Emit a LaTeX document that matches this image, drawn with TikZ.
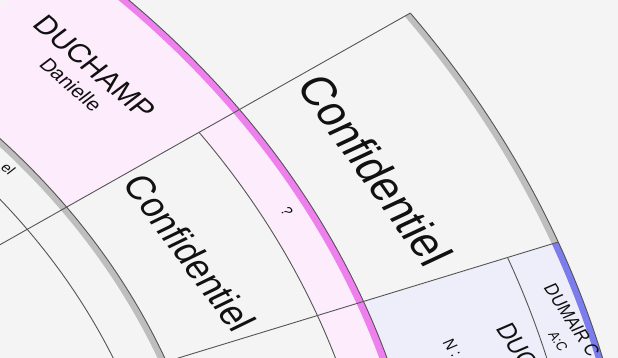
\documentclass[tikz,border=0pt]{standalone}
\usepackage{fontspec}
\setmainfont{Liberation Sans}
\usepackage{xcolor}
\usepackage{tikz}
\usetikzlibrary{calc}
\definecolor{figPaper}{RGB}{244,244,244}
\definecolor{figRose}{RGB}{252,236,252}
\definecolor{figRoseEdge}{RGB}{238,128,238}
\definecolor{figLilac}{RGB}{238,238,250}
\definecolor{figLilacEdge}{RGB}{124,124,236}
\definecolor{figSilver}{RGB}{190,190,190}
\definecolor{figLine}{RGB}{85,85,85}
\definecolor{figInk}{RGB}{17,17,17}
\tikzset{
  figrule/.style={draw=figLine,line width=0.45pt},
  figlabel/.style={transform shape,inner sep=0pt,text=figInk},
  figbig/.style={figlabel,font=\fontsize{20}{23}\selectfont},
  figmid/.style={figlabel,font=\fontsize{16.6}{19}\selectfont},
  figname/.style={figlabel,font=\fontsize{13}{15}\selectfont},
  figfirst/.style={figlabel,font=\fontsize{9}{11}\selectfont},
  figband/.style={figlabel,font=\fontsize{8}{9.6}\selectfont},
  figtiny/.style={figlabel,font=\fontsize{6.5}{7.5}\selectfont},
}
% annular sector: style, start/end angle, inner/outer radius
\newcommand{\FanSector}[5]{%
  \path[#1] (#2:#4) arc[start angle=#2,end angle=#3,radius=#4]
    -- (#3:#5) arc[start angle=#3,end angle=#2,radius=#5] -- cycle;%
}
\newcommand{\FanArc}[4]{%
  \draw[#1] (#2:#4) arc[start angle=#2,end angle=#3,radius=#4];%
}

\begin{document}
\begin{tikzpicture}[x=0.5pt,y=0.5pt]
\useasboundingbox (0,0) rectangle (618,-358);
\clip (0,0) rectangle (618,-358);
\fill[figPaper] (0,0) rectangle (618,-358);

\begin{scope}[shift={(-647,-610)},xscale=1.231]
% Cells.
\FanSector{fill=figPaper}{6.4}{49}{480}{706}
\FanSector{fill=figRose}{34.8}{49}{706}{877}
\FanSector{fill=figPaper}{6.4}{34.8}{706}{837}
\FanSector{fill=figRose}{6.4}{34.8}{837}{877}
\FanSector{fill=figPaper}{20.6}{34.8}{877}{1046}
\FanSector{fill=figLilac}{6.4}{20.6}{877}{1046}

% Edge bands.
\FanSector{fill=figSilver}{6.4}{49}{700.5}{706}
\FanSector{fill=figRoseEdge}{6.4}{49}{871}{877}
\FanSector{fill=figSilver}{20.6}{34.8}{1040.5}{1046}
\FanSector{fill=figLilacEdge}{6.4}{20.6}{1040.5}{1046}

% Rings and spokes.
\FanArc{figrule}{6.4}{49}{667}
\FanArc{figrule}{6.4}{49}{706}
\FanArc{figrule}{6.4}{34.8}{837}
\FanArc{figrule}{6.4}{49}{877}
\FanArc{figrule}{6.4}{20.6}{1002}
\FanArc{figrule}{6.4}{34.8}{1046}
\draw[figrule] (34.8:480) -- (34.8:1046);
\draw[figrule] (20.6:706) -- (20.6:1046);

% Labels.
\node[figtiny,rotate=-46,anchor=east] (innerTail) at (39.2:692) {el};
\node[figname,rotate=-47] (duchamp) at (42.0:811) {DUCHAMP};
\node[figfirst,rotate=-47] (danielle) at (42.0:785) {Danielle};
\node[figmid,rotate=-59] (confInner) at (27.7:768) {Confidentiel};
\node[figtiny,rotate=-60] (query) at (27.7:857) {?};
\node[figbig,rotate=-60] (confOuter) at (27.9:940) {Confidentiel};
\node[figname,font=\fontsize{11}{13}\selectfont,rotate=-62,anchor=west] (ducOuter) at (17.0:977) {DUC};
\node[figtiny,font=\fontsize{7}{8}\selectfont,rotate=-62,anchor=west] (ducBirth) at (16.9:929) {N :};
\node[figband,rotate=-62,anchor=west] (dumair) at (18.5:1024.5) {DUMAIR C};
\node[figtiny,font=\fontsize{6}{7}\selectfont,rotate=-62,anchor=west] (dumairDate) at (15.9:1013) {A:C};
\end{scope}
\end{tikzpicture}
\end{document}
